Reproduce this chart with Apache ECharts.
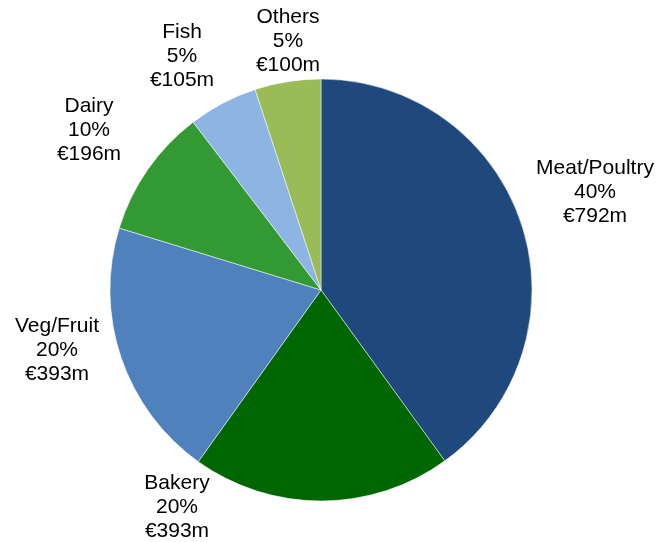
<!DOCTYPE html>
<html>
<head>
<meta charset="utf-8">
<script src="https://cdn.jsdelivr.net/npm/echarts@6/dist/echarts.min.js"></script>
<style>
  html, body { margin: 0; padding: 0; background: #ffffff; }
  #chart { width: 657px; height: 542px; }
</style>
</head>
<body>
<div id="chart"></div>
<script>
// Market size by category (€m)
const categories = ['Meat/Poultry', 'Bakery', 'Veg/Fruit', 'Dairy', 'Fish', 'Others'];
const values = [792, 393, 393, 196, 105, 100];

// Slice colours, in category order
const sliceColors = ['#1F497D', '#006600', '#4F81BD', '#339933', '#8DB4E2', '#9BBB59'];

// Pie geometry and where each label's centre sits relative to the pie centre
const pieCenter = [321, 290];
const pieRadius = 211;
const labelOffsets = [
  [274, -98],   // Meat/Poultry
  [-144, 217],  // Bakery
  [-264, 60],   // Veg/Fruit
  [-232, -160], // Dairy
  [-139, -234], // Fish
  [-33, -249]   // Others
];

const chart = echarts.init(document.getElementById('chart'), null, { renderer: 'canvas' });

chart.setOption({
  backgroundColor: '#ffffff',
  animation: false,
  series: [{
    type: 'pie',
    center: pieCenter,
    radius: pieRadius,
    startAngle: 90,
    clockwise: true,
    percentPrecision: 0,
    avoidLabelOverlap: false,
    itemStyle: { borderColor: '#ffffff', borderWidth: 0.5 },
    emphasis: { disabled: true },
    label: {
      show: true,
      position: 'outside',
      formatter: '{b}\n{d}%\n€{c}m',
      fontFamily: '"Liberation Sans", Arial, sans-serif',
      fontSize: 21,
      lineHeight: 24,
      color: '#000000',
      align: 'center'
    },
    labelLine: { show: false },
    labelLayout: function (params) {
      const off = labelOffsets[params.dataIndex];
      return {
        x: pieCenter[0] + off[0],
        y: pieCenter[1] + off[1],
        align: 'center',
        verticalAlign: 'middle'
      };
    },
    data: categories.map((name, i) => ({
      name: name,
      value: values[i],
      itemStyle: { color: sliceColors[i] }
    }))
  }]
});
</script>
</body>
</html>
